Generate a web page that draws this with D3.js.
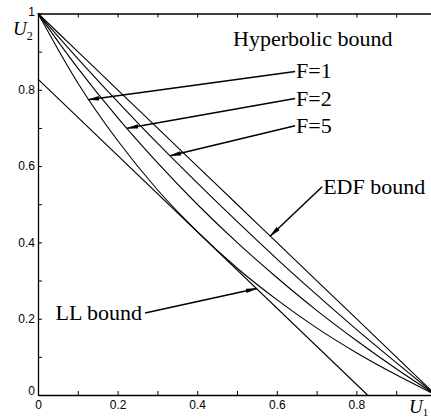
<!DOCTYPE html>
<html>
<head>
<meta charset="utf-8">
<script src="https://cdn.jsdelivr.net/npm/d3@7"></script>
<style>
  body { margin: 0; background: #fff; }
  svg { display: block; }
  .tick text { font-family: "Liberation Sans", Arial, sans-serif; font-size: 12px; fill: #000; }
  .note { font-family: "Liberation Serif", "Times New Roman", serif; font-size: 22px; fill: #000; }
</style>
</head>
<body>
<div id="chart"></div>
<script>
// U1 readings along the horizontal axis
var u1 = [0, 0.1, 0.2, 0.3, 0.4, 0.5, 0.6, 0.7, 0.8, 0.9, 1];

// U2 readings for each curve, at the u1 values above
var hyperF1 = [1, 0.818, 0.667, 0.538, 0.429, 0.333, 0.25, 0.176, 0.111, 0.053, 0];
var hyperF2 = [1, 0.857, 0.727, 0.609, 0.5, 0.4, 0.308, 0.222, 0.143, 0.069, 0];
var hyperF5 = [1, 0.882, 0.769, 0.66, 0.556, 0.455, 0.357, 0.263, 0.172, 0.085, 0];
var edf     = [1, 0.9, 0.8, 0.7, 0.6, 0.5, 0.4, 0.3, 0.2, 0.1, 0];

// LL bound for two tasks: straight line ending points
var llU1 = [0, 0.828];
var llU2 = [0.828, 0];

// axis ticks
var minorTicks = [0, 0.1, 0.2, 0.3, 0.4, 0.5, 0.6, 0.7, 0.8, 0.9, 1];
var xLabels = {"0": "0", "0.2": "0.2", "0.4": "0.4", "0.6": "0.6", "0.8": "0.8"};
var yLabels = {"0": "0", "0.2": "0.2", "0.4": "0.4", "0.6": "0.6", "0.8": "0.8", "1": "1"};

// annotations: arrow tail -> tip, in data units
var notes = [
  {text: "F=1", tail: [0.646, 0.848], tip: [0.126, 0.774], side: "right"},
  {text: "F=2", tail: [0.646, 0.777], tip: [0.224, 0.699], side: "right"},
  {text: "F=5", tail: [0.646, 0.706], tip: [0.332, 0.627], side: "right"},
  {text: "EDF bound", tail: [0.714, 0.546], tip: [0.583, 0.416], side: "right"},
  {text: "LL bound", tail: [0.269, 0.215], tip: [0.550, 0.279], side: "left"}
];

var W = 431, H = 419;
var svg = d3.select("#chart").append("svg")
    .attr("width", W).attr("height", H);

var x = d3.scaleLinear().domain([0, 1]).range([38, 436]);
var y = d3.scaleLinear().domain([0, 1]).range([395, 13.5]);

svg.append("defs").append("marker")
    .attr("id", "head")
    .attr("markerUnits", "userSpaceOnUse")
    .attr("viewBox", "0 -3 12 6")
    .attr("refX", 11).attr("refY", 0)
    .attr("markerWidth", 12).attr("markerHeight", 6)
    .attr("orient", "auto")
  .append("path")
    .attr("d", "M0,-2.2L12,0L0,2.2Z")
    .attr("fill", "#000");

// axes
var xAxis = d3.axisBottom(x).tickValues(minorTicks)
    .tickSizeInner(-4).tickSizeOuter(0).tickPadding(5)
    .tickFormat(function(d) { return xLabels[String(d)] || ""; });
var gx = svg.append("g").attr("transform", "translate(0," + y(0) + ")").call(xAxis);

var yAxis = d3.axisLeft(y).tickValues(minorTicks)
    .tickSizeInner(-4).tickSizeOuter(0).tickPadding(3)
    .tickFormat(function(d) { return yLabels[String(d)] || ""; });
var gy = svg.append("g").attr("transform", "translate(" + x(0) + ",0)").call(yAxis);
// the 0 and 1 labels sit a bit inside the corners
gy.selectAll(".tick text").filter(function(d) { return d === 0; }).attr("dy", "-0.05em");
gy.selectAll(".tick text").filter(function(d) { return d === 1; }).attr("dy", "0.2em");

var topAxis = d3.axisTop(x).tickValues(minorTicks)
    .tickSizeInner(-4).tickSizeOuter(0).tickFormat("");
var gt = svg.append("g").attr("transform", "translate(0," + y(1) + ")").call(topAxis);

[gx, gy, gt].forEach(function(g) {
  g.select(".domain").attr("stroke", "#000").attr("stroke-width", 1.3);
  g.selectAll(".tick line").attr("stroke", "#000").attr("stroke-width", 1);
});

// curves
var line = d3.line()
    .x(function(d) { return x(d[0]); })
    .y(function(d) { return y(d[1]); })
    .curve(d3.curveMonotoneX);

[hyperF1, hyperF2, hyperF5, edf].forEach(function(s) {
  svg.append("path")
      .datum(u1.map(function(u, i) { return [u, s[i]]; }))
      .attr("d", line)
      .attr("fill", "none")
      .attr("stroke", "#000")
      .attr("stroke-width", 1.1);
});

svg.append("path")
    .datum(llU1.map(function(u, i) { return [u, llU2[i]]; }))
    .attr("d", d3.line().x(function(d) { return x(d[0]); }).y(function(d) { return y(d[1]); }))
    .attr("fill", "none")
    .attr("stroke", "#000")
    .attr("stroke-width", 1.1);

// annotations
svg.append("text").attr("class", "note")
    .attr("x", x(0.49)).attr("y", y(0.916))
    .text("Hyperbolic bound");

notes.forEach(function(n) {
  var tx = x(n.tail[0]), ty = y(n.tail[1]);
  svg.append("line")
      .attr("x1", tx).attr("y1", ty)
      .attr("x2", x(n.tip[0])).attr("y2", y(n.tip[1]))
      .attr("stroke", "#000").attr("stroke-width", 1.5)
      .attr("marker-end", "url(#head)");
  svg.append("text").attr("class", "note")
      .attr("x", n.side === "right" ? tx + 1 : tx - 3)
      .attr("y", ty + 7)
      .attr("text-anchor", n.side === "right" ? "start" : "end")
      .text(n.text);
});

// axis titles
var t2 = svg.append("text").attr("class", "note")
    .attr("x", 13).attr("y", 35)
    .style("font-style", "italic").style("font-size", "19px")
    .text("U");
t2.append("tspan").attr("dy", 5).style("font-size", "12px").style("font-style", "normal").text("2");

var t1 = svg.append("text").attr("class", "note")
    .attr("x", 409).attr("y", 413)
    .style("font-style", "italic").style("font-size", "19px")
    .text("U");
t1.append("tspan").attr("dy", 3).style("font-size", "11px").style("font-style", "normal").text("1");
</script>
</body>
</html>
